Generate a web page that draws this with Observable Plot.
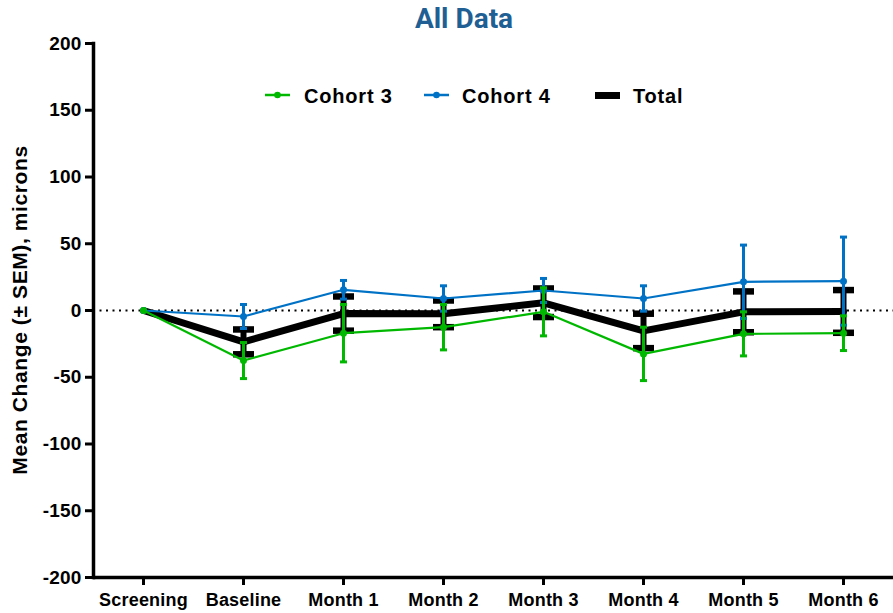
<!DOCTYPE html>
<html><head><meta charset="utf-8">
<script src="https://cdn.jsdelivr.net/npm/d3@7"></script>
<script src="https://cdn.jsdelivr.net/npm/@observablehq/plot@0.6"></script>
<style>
body{margin:0;background:#fff;}
#wrap{position:relative;width:893px;height:613px;font-family:"Liberation Sans",Arial,sans-serif;font-weight:bold;color:#000;overflow:hidden;}
#chart{position:absolute;left:0;top:0;}
#title{position:absolute;left:364px;width:200px;top:5px;text-align:center;font-family:Roboto,"Liberation Sans",sans-serif;font-weight:bold;font-size:28px;line-height:28px;color:#1f5f93;}
.lg{position:absolute;font-size:20px;line-height:20px;top:86px;letter-spacing:0.8px;}
.mk{position:absolute;}
#ylabel{position:absolute;width:360px;left:-160px;top:299px;height:22px;line-height:22px;text-align:center;font-size:21px;letter-spacing:0.6px;transform:rotate(-90deg);}
</style></head><body>
<div id="wrap">
<div id="chart"></div>
<div id="title">All Data</div>
<svg class="mk" style="left:263px;top:89px" width="30" height="12"><line x1="2" x2="27" y1="6" y2="6" stroke="#00b800" stroke-width="2.5"/><circle cx="14.5" cy="6" r="3.3" fill="#00b800"/></svg>
<div class="lg" style="left:304px">Cohort 3</div>
<svg class="mk" style="left:422px;top:89px" width="30" height="12"><line x1="2" x2="27" y1="6" y2="6" stroke="#0072c6" stroke-width="2.5"/><circle cx="14.5" cy="6" r="3.3" fill="#0072c6"/></svg>
<div class="lg" style="left:462px">Cohort 4</div>
<svg class="mk" style="left:595px;top:92px" width="25" height="8"><rect x="0" y="0" width="25" height="7" fill="#000"/></svg>
<div class="lg" style="left:633px">Total</div>
<div id="ylabel">Mean Change (± SEM), microns</div>
</div>
<script>
const categories = ["Screening","Baseline","Month 1","Month 2","Month 3","Month 4","Month 5","Month 6"];
const cohort3Mean = [0, -37.5, -17, -12.5, -1, -32.5, -17.5, -17];
const cohort3Sem  = [0, 13.5, 21.5, 17, 18, 20, 16.5, 13];
const cohort4Mean = [0, -4.5, 15.5, 9, 15, 9, 21.5, 22];
const cohort4Sem  = [0, 9, 7, 9.5, 9, 9.5, 27.5, 33];
const totalMean   = [0, -23.5, -2.3, -2.5, 5.8, -15.3, -1, -0.7];
const totalSem    = [0, 9.3, 12.8, 10, 10.7, 12.9, 15.3, 16];
const yTicks = [-200, -150, -100, -50, 0, 50, 100, 150, 200];

function rows(means, sems){
  return categories.map((c,i)=>({cat:c, mean:means[i], sem:sems[i], lo:means[i]-sems[i], hi:means[i]+sems[i]}));
}
const capSymbol = {draw(ctx, size){ const r = Math.sqrt(size/Math.PI); ctx.moveTo(-r,0); ctx.lineTo(r,0); }};

function seriesMarks(data, o){
  const errs = data.filter(d => d.sem > 0);
  const m = [
    Plot.ruleX(errs, {x:"cat", y1:"lo", y2:"hi", stroke:o.color, strokeWidth:o.barW}),
    Plot.dot(errs, {x:"cat", y:"lo", symbol:capSymbol, r:o.capR, stroke:o.color, strokeWidth:o.capW, fill:"none"}),
    Plot.dot(errs, {x:"cat", y:"hi", symbol:capSymbol, r:o.capR, stroke:o.color, strokeWidth:o.capW, fill:"none"}),
    Plot.line(data, {x:"cat", y:"mean", stroke:o.color, strokeWidth:o.lw})
  ];
  if (o.dotR) m.push(Plot.dot(data, {x:"cat", y:"mean", r:o.dotR, fill:o.color, stroke:"none"}));
  return m;
}

const plot = Plot.plot({
  width: 893, height: 613,
  marginLeft: 93, marginRight: 0, marginTop: 43, marginBottom: 36,
  style: {fontFamily: '"Liberation Sans", Arial, sans-serif', fontWeight: "bold", color: "#000", background: "#fff"},
  x: {type: "point", domain: categories, padding: 0.5},
  y: {domain: [-200, 200]},
  marks: [
    Plot.ruleY([0], {stroke:"#000", strokeWidth:2, strokeDasharray:"2,4.5"}),
    ...seriesMarks(rows(totalMean, totalSem), {color:"#000", lw:7, barW:6, capR:10.5, capW:6.5}),
    ...seriesMarks(rows(cohort4Mean, cohort4Sem), {color:"#0072c6", lw:2.2, barW:3, capR:3.5, capW:3, dotR:3.5}),
    ...seriesMarks(rows(cohort3Mean, cohort3Sem), {color:"#00b800", lw:2.2, barW:3, capR:3.5, capW:3, dotR:3.5}),
    Plot.axisY({ticks: yTicks, tickSize: 8, tickPadding: 4, strokeWidth: 3, tickFormat: d => String(d), fontSize: 19, label: null}),
    Plot.axisX({tickSize: 8, tickPadding: 8, strokeWidth: 3, fontSize: 18, label: null}),
    Plot.ruleY([-200], {stroke:"#000", strokeWidth:3.5}),
    Plot.frame({anchor:"left", stroke:"#000", strokeWidth:3.5})
  ]
});
document.getElementById("chart").appendChild(plot);
d3.select(plot).selectAll("g[aria-label='y-axis tick label'] text").style("letter-spacing","0.2px");
d3.select(plot).selectAll("g[aria-label='x-axis tick label'] text").style("letter-spacing","0.2px");
</script>
</body></html>
